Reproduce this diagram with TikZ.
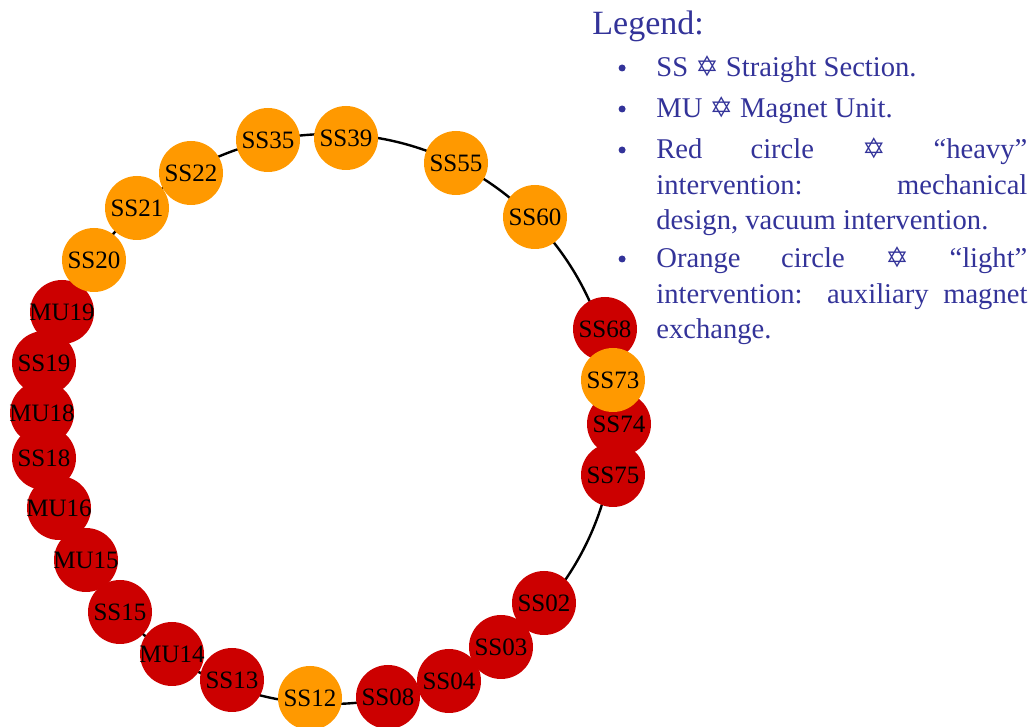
\documentclass[tikz,border=0pt]{standalone}
\usepackage{fontspec}
\setmainfont{Liberation Serif}
\newfontfamily\starfont{DejaVu Sans}
\usetikzlibrary{positioning}

\definecolor{heavyred}{RGB}{204,0,0}
\definecolor{lightorange}{RGB}{255,153,0}
\definecolor{legendblue}{RGB}{51,51,153}
\newcommand\davidstar{{\starfont\fontsize{14}{14}\selectfont ✡}}

\begin{document}
\begin{tikzpicture}[
        x=0.5pt, y=-0.5pt,
        unit/.style={circle, inner sep=-4pt, minimum size=32pt, font=\fontsize{12.5}{12.5}\selectfont},
        heavy/.style={unit, fill=heavyred},
        light/.style={unit, fill=lightorange},
        item/.style={anchor=base west, inner sep=0pt, text width=185.5pt, align=justify, text=legendblue,
            font=\fontsize{14.3}{17.75}\selectfont, execute at begin node={\hyphenpenalty=10000\tolerance=10000}},
        dot/.style={circle, fill=legendblue, inner sep=0pt, minimum size=3.5pt}
    ]
        \useasboundingbox (0,0) rectangle (1030,727);
        % the ring
        \coordinate (c) at (330,419);
        \draw[line width=1.2pt] (c) circle[radius=285];
        % intervention points
        \node[light] (ss35) at (268,140) {SS35};
        \node[light] (ss39) at (346,138) {SS39};
        \node[light] (ss55) at (456,163) {SS55};
        \node[light] (ss60) at (535,217) {SS60};
        \node[heavy] (ss68) at (605,329) {SS68};
        \node[heavy] (ss74) at (619,424) {SS74};
        \node[light] (ss73) at (613,380) {SS73};
        \node[heavy] (ss75) at (613,475) {SS75};
        \node[heavy] (ss02) at (544,603) {SS02};
        \node[heavy] (ss03) at (501,647) {SS03};
        \node[heavy] (ss04) at (449,681) {SS04};
        \node[heavy] (ss08) at (388,697) {SS08};
        \node[light] (ss12) at (310,698) {SS12};
        \node[heavy] (ss13) at (232,680) {SS13};
        \node[heavy] (mu14) at (172,654) {MU14};
        \node[heavy] (ss15) at (120,612) {SS15};
        \node[heavy] (mu15) at (86,560) {MU15};
        \node[heavy] (mu16) at (59,508) {MU16};
        \node[heavy] (ss18) at (44,458) {SS18};
        \node[heavy] (mu18) at (42,413) {MU18};
        \node[heavy] (ss19) at (44,363) {SS19};
        \node[heavy] (mu19) at (62,312) {MU19};
        \node[light] (ss20) at (94,260) {SS20};
        \node[light] (ss21) at (137,208) {SS21};
        \node[light] (ss22) at (191,173) {SS22};
        % legend
        \node[anchor=base west, inner sep=0pt, text=legendblue, font=\fontsize{17}{17}\selectfont] (legend) at (592,35) {Legend:};
        \node[item] (i1) at (656,77) {SS~\davidstar{} Straight Section.};
        \node[item] (i2) at (656,118) {MU~\davidstar{} Magnet Unit.};
        \node[item] (i3) at (656,159) {Red circle~\davidstar{}~“heavy” intervention: mechanical design, vacuum intervention.};
        \node[item] (i4) at (656,268) {Orange circle~\davidstar{}~“light” intervention: auxiliary magnet exchange.};
        \node[dot, left=15pt of i1.base west, yshift=4.5pt] (d1) {};
        \node[dot, left=15pt of i2.base west, yshift=4.5pt] (d2) {};
        \node[dot, left=15pt of i3.base west, yshift=4.5pt] (d3) {};
        \node[dot, left=15pt of i4.base west, yshift=4.5pt] (d4) {};
    \end{tikzpicture}
\end{document}
